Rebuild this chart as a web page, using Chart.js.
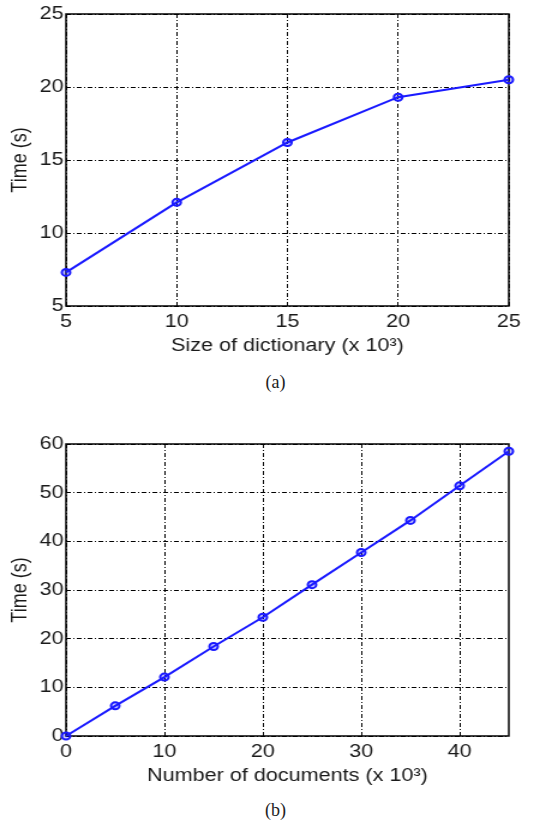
<!DOCTYPE html>
<html>
<head>
<meta charset="utf-8">
<script src="https://cdn.jsdelivr.net/npm/chart.js@4/dist/chart.umd.min.js"></script>
<style>
  body { margin: 0; background: #fff; width: 545px; height: 823px; position: relative; overflow: hidden; }
  /* the original figure is a bit stretched sideways, so the charts are too */
  .box { position: absolute; left: 0; width: 454px; height: 360px; transform: scaleX(1.2); transform-origin: left top; }
  .cap { position: absolute; width: 545px; left: 3px; text-align: center; font-family: "Liberation Serif", serif; font-size: 18px; line-height: 22px; color: #222; }
</style>
</head>
<body>
<div class="box" style="top:0"><canvas id="chartA"></canvas></div>
<div class="cap" style="top:371px">(a)</div>
<div class="box" style="top:430px"><canvas id="chartB"></canvas></div>
<div class="cap" style="top:799px">(b)</div>
<script>
// Chart (a): time vs size of dictionary
const dictSizes = [5, 10, 15, 20, 25];
const dictTimes = [7.3, 12.1, 16.2, 19.3, 20.5];
const dictXTicks = [5, 10, 15, 20, 25];
const dictYTicks = [5, 10, 15, 20, 25];

// Chart (b): time vs number of documents
const docCounts = [0, 5, 10, 15, 20, 25, 30, 35, 40, 45];
const docTimes = [0, 6.2, 12.1, 18.4, 24.4, 31.1, 37.7, 44.3, 51.4, 58.5];
const docXTicks = [0, 10, 20, 30, 40];
const docYTicks = [0, 10, 20, 30, 40, 50, 60];

const tickFont = { family: "'Liberation Sans', Arial, sans-serif", size: 18 };
const textColor = '#1a1a1a';

// draws the full box around the plot area, like matlab
const frameBox = {
    id: 'frameBox',
    beforeDatasetsDraw(chart) {
        const a = chart.chartArea;
        const ctx = chart.ctx;
        ctx.save();
        ctx.strokeStyle = '#000';
        ctx.lineWidth = 1.5;
        ctx.strokeRect(a.left, a.top, a.right - a.left, a.bottom - a.top);
        ctx.restore();
    }
};

function makeChart(id, xs, ys, xTicks, yTicks, xTitle) {
    const ctx = document.getElementById(id).getContext('2d');
    return new Chart(ctx, {
        type: 'line',
        data: {
            datasets: [{
                data: xs.map((x, i) => ({ x: x, y: ys[i] })),
                borderColor: '#1a1aff',
                borderWidth: 2,
                pointRadius: 3.5,
                pointBorderWidth: 2,
                pointBackgroundColor: 'rgba(26,26,255,0.25)',
                pointBorderColor: '#1a1aff',
                tension: 0,
                clip: false
            }]
        },
        options: {
            responsive: true,
            maintainAspectRatio: false,
            animation: false,
            layout: { padding: { left: 0, top: 14, right: 30, bottom: 0 } },
            plugins: { legend: { display: false }, tooltip: { enabled: false } },
            scales: {
                x: {
                    type: 'linear',
                    min: xs[0],
                    max: xs[xs.length - 1],
                    afterFit: scale => { scale.height = 54; },
                    afterBuildTicks: scale => { scale.ticks = xTicks.map(v => ({ value: v })); },
                    ticks: { font: tickFont, color: textColor, padding: 5, maxRotation: 0 },
                    grid: { color: '#000', lineWidth: 1, drawTicks: false },
                    border: { display: false, dash: [4, 2, 1, 2] },
                    title: { display: true, text: xTitle, font: tickFont, color: textColor, padding: { top: 0, bottom: 3 } }
                },
                y: {
                    min: yTicks[0],
                    max: yTicks[yTicks.length - 1],
                    afterFit: scale => { scale.width = 55; },
                    afterBuildTicks: scale => { scale.ticks = yTicks.map(v => ({ value: v })); },
                    ticks: { font: tickFont, color: textColor, padding: 2 },
                    grid: { color: '#000', lineWidth: 1, drawTicks: false },
                    border: { display: false, dash: [4, 2, 1, 2] },
                    title: { display: true, text: 'Time (s)', font: tickFont, color: textColor, padding: { top: 6, bottom: 0 } }
                }
            }
        },
        plugins: [frameBox]
    });
}

makeChart('chartA', dictSizes, dictTimes, dictXTicks, dictYTicks,
    'Size of dictionary (x 10\u00B3)');
makeChart('chartB', docCounts, docTimes, docXTicks, docYTicks,
    'Number of documents (x 10\u00B3)');
</script>
</body>
</html>
